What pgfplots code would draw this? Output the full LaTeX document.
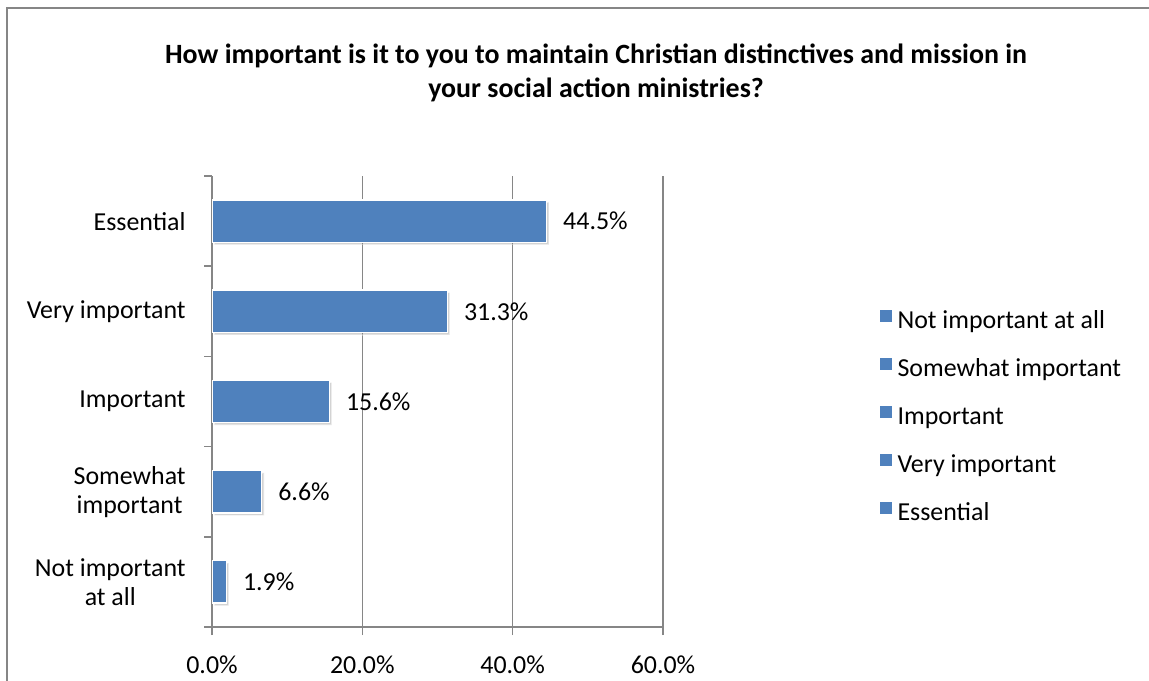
\documentclass[border=0pt]{standalone}
\usepackage{pgfplots}
\pgfplotsset{compat=1.18}
\usepackage{fontspec}
\setmainfont{Carlito}
\usetikzlibrary{shadows}
\definecolor{barblue}{HTML}{4F81BD}
\definecolor{axgray}{HTML}{868686}
\begin{document}
\begin{tikzpicture}[x=1bp,y=1bp]
\useasboundingbox (0,0) rectangle (574.5,340);
\draw[axgray, line width=1bp] (3.5,-5) -- (3.5,336) -- (580,336);
\node[font=\fontsize{14}{17}\selectfont\bfseries, align=center] at (298,303.5)
  {How important is it to you to maintain Christian distinctives and mission in\\your social action ministries?};
\begin{axis}[
  at={(106bp,26.5bp)}, anchor=south west,
  width=225.5bp, height=225.5bp, scale only axis,
  xmin=0, xmax=60, ymin=-0.5, ymax=4.5,
  axis x line*=bottom, axis y line*=left,
  axis line style={axgray, line width=0.75bp},
  tick align=outside, major tick length=4bp,
  tick style={axgray, line width=0.75bp},
  xtick={0,20,40,60},
  xticklabels={0.0\%,20.0\%,40.0\%,60.0\%},
  xmajorgrids, grid style={axgray, line width=0.75bp},
  ytick={0,1,2,3,4},
  yticklabels={Not important\\at all, Somewhat\\important, Important, Very important, Essential},
  ytick style={draw=none},
  extra y ticks={-0.5,0.5,1.5,2.5,3.5,4.5},
  extra y tick labels={},
  extra y tick style={ytick style={draw=axgray}},
  yticklabel style={align=center, font=\fontsize{13}{14.5}\selectfont, inner sep=0pt, xshift=-9bp},
  xticklabel style={font=\fontsize{13}{14.5}\selectfont, inner sep=0pt, yshift=-10bp},
  legend style={at={(1.466,0.714)}, anchor=north west, draw=none, fill=none,
    font=\fontsize{13}{14.5}\selectfont, row sep=11.5bp, column sep=3bp,
    nodes={inner sep=0pt, text height=9.5bp, text depth=3bp}},
  legend cell align=left,
  legend image code/.code={\fill[barblue] (0bp,-0.3bp) rectangle (6bp,5.7bp);},
]
\addplot[xbar, bar width=0.47, fill=barblue, draw=white, line width=0.75bp,
  drop shadow={shadow xshift=1.2bp, shadow yshift=-1.2bp, opacity=0.35},
  nodes near coords={\pgfmathprintnumber[fixed,fixed zerofill,precision=1,assume math mode=true]{\pgfplotspointmeta}\%},
  nodes near coords style={font=\fontsize{13}{14.5}\selectfont, text=black, anchor=west, inner sep=0pt, xshift=8bp},
  forget plot]
  coordinates {(1.9,0) (6.6,1) (15.6,2) (31.3,3) (44.5,4)};
\addlegendimage{draw=none}\addlegendentry{Not important at all}
\addlegendimage{draw=none}\addlegendentry{Somewhat important}
\addlegendimage{draw=none}\addlegendentry{Important}
\addlegendimage{draw=none}\addlegendentry{Very important}
\addlegendimage{draw=none}\addlegendentry{Essential}
\end{axis}
\end{tikzpicture}
\end{document}
